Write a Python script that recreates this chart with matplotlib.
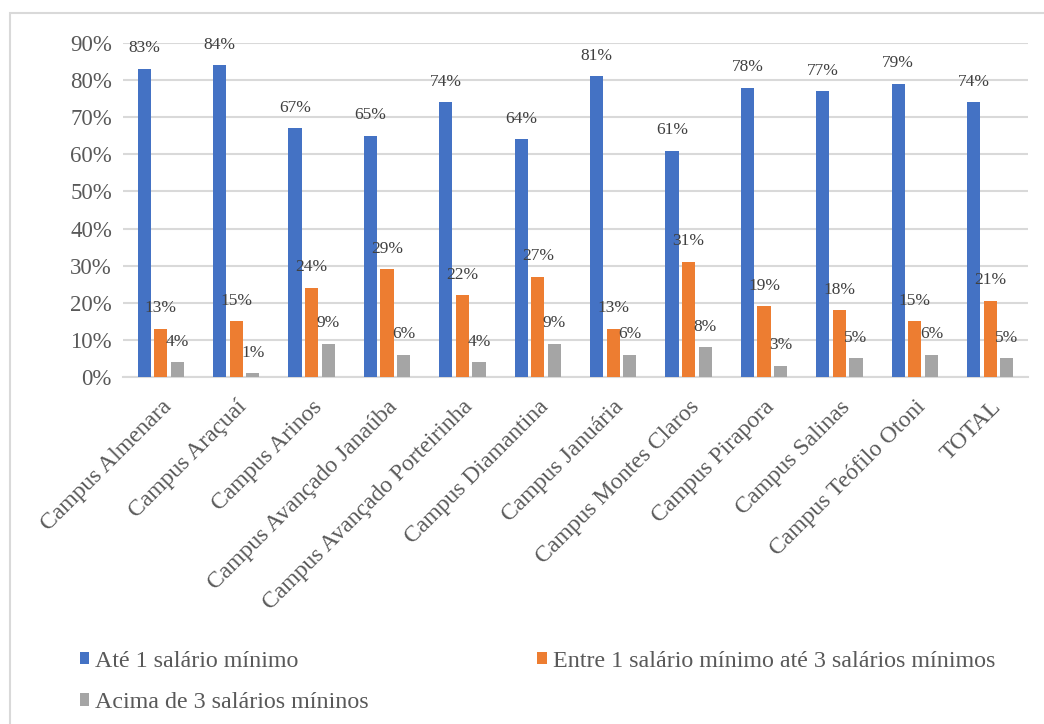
import matplotlib
matplotlib.use("Agg")
import matplotlib.pyplot as plt
from matplotlib.patches import Rectangle

plt.rcParams["font.family"] = ["Liberation Serif", "DejaVu Serif"]

campi = ["Campus Almenara", "Campus Araçuaí", "Campus Arinos",
         "Campus Avançado Janaúba", "Campus Avançado Porteirinha",
         "Campus Diamantina", "Campus Januária", "Campus Montes Claros",
         "Campus Pirapora", "Campus Salinas", "Campus Teófilo Otoni", "TOTAL"]
ate_1 = [83, 84, 67, 65, 74, 64, 81, 61, 78, 77, 79, 74]
entre_1_3 = [13, 15, 24, 29, 22, 27, 13, 31, 19, 18, 15, 20.6]
acima_3 = [4, 1, 9, 6, 4, 9, 6, 8, 3, 5, 6, 5]
series = ["Até 1 salário mínimo", "Entre 1 salário mínimo até 3 salários mínimos",
          "Acima de 3 salários míninos"]
colors = ["#4472c4", "#ed7d31", "#a5a5a5"]

W, H = 1044, 724
fig = plt.figure(figsize=(W / 100, H / 100), dpi=100)
ax = fig.add_axes([123 / W, 1 - 377 / H, 905 / W, 334 / H])

x = list(range(len(campi)))
width = 0.175
step = 0.22
bars = []
for k, (vals, col) in enumerate(zip([ate_1, entre_1_3, acima_3], colors)):
    xs = [i + (k - 1) * step for i in x]
    b = ax.bar(xs, [v / 100 for v in vals], width, color=col, zorder=3)
    bars.append(b)
    for xi, v in zip(xs, vals):
        ax.annotate(f"{v:.0f}%", (xi, v / 100), xytext=(0, 9),
                    textcoords="offset points", ha="center", va="bottom",
                    fontsize=12.5, color="#404040", zorder=4)

ax.set_xlim(-0.5, len(campi) - 0.5)
ax.set_ylim(0, 0.9)
ax.set_yticks([i / 10 for i in range(10)])
ax.set_yticklabels([f"{i * 10}%" for i in range(10)])
ax.grid(axis="y", color="#d9d9d9", lw=1.5, zorder=0)
for s in ["top", "right", "left"]:
    ax.spines[s].set_visible(False)
ax.spines["bottom"].set_color("#d9d9d9")
ax.spines["bottom"].set_linewidth(1.5)
ax.tick_params(length=0, labelsize=16.5, colors="#595959", pad=8)
ax.tick_params(axis="x", pad=14)
ax.set_xticks(x)
ax.set_xticklabels(campi, rotation=45, ha="right", va="top",
                   rotation_mode="anchor", fontsize=17, color="#595959")

leg = fig.legend([bars[0], bars[2], bars[1]], [series[0], series[2], series[1]],
                 ncol=2, loc="upper left", bbox_to_anchor=(58 / W, 1 - 629 / H),
                 frameon=False, fontsize=17.3, labelcolor="#595959",
                 handlelength=0.4, handleheight=0.4, handletextpad=0.25,
                 columnspacing=7.0, labelspacing=0.85)

fig.patches.append(Rectangle((10 / W, -0.1), 1.2, 1.1 - 13 / H,
                             transform=fig.transFigure, fill=False,
                             edgecolor="#d9d9d9", lw=1.5))

fig.savefig("out.png", dpi=100)
